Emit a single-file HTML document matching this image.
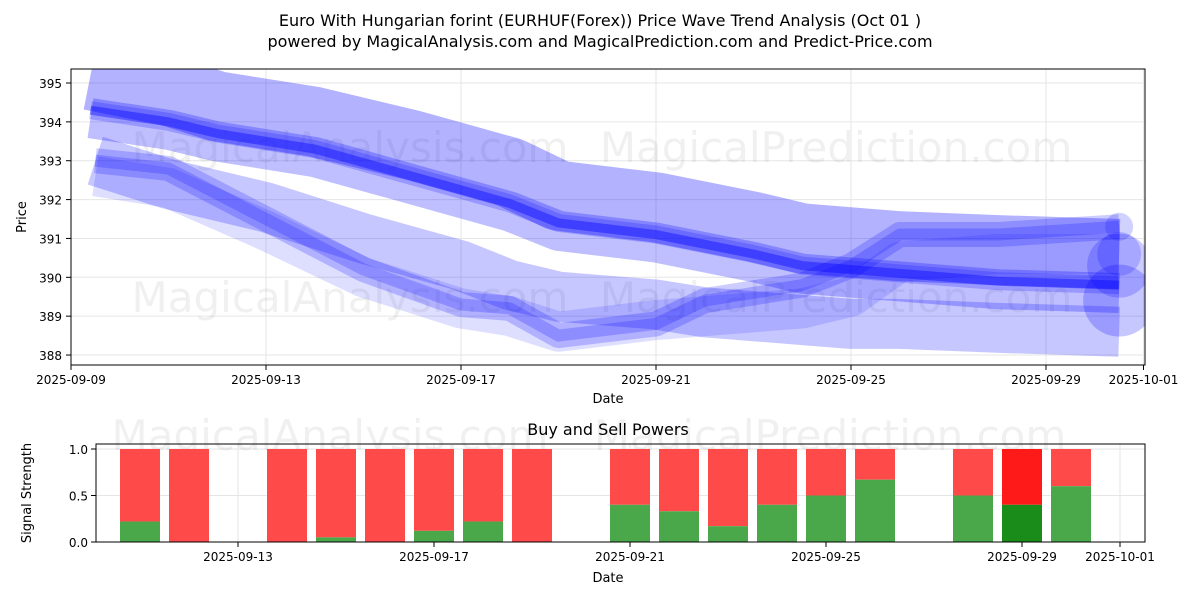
<!DOCTYPE html>
<html><head><meta charset="utf-8"><style>
body{margin:0;background:#fff;font-family:"Liberation Sans","DejaVu Sans",sans-serif}
svg text{font-family:"DejaVu Sans","Liberation Sans",sans-serif}
</style></head><body>
<svg id="c" width="1200" height="600" xmlns="http://www.w3.org/2000/svg">
<text x="600" y="26" text-anchor="middle" font-size="16">Euro With Hungarian forint (EURHUF(Forex)) Price Wave Trend Analysis (Oct 01 )</text>
<text x="600" y="47" text-anchor="middle" font-size="16">powered by MagicalAnalysis.com and MagicalPrediction.com and Predict-Price.com</text>
<defs><clipPath id="clipm"><rect x="71" y="69" width="1074" height="296"/></clipPath></defs>
<g id="main"></g>
<g id="bot"></g>
</svg>
<script>
// Main chart data (day of September, price)
const waveDays = [9.4, 11, 12, 14, 16, 18, 19, 21, 23, 24, 26, 28, 30.5];
const midLine = [394.3, 394.0, 393.7, 393.3, 392.6, 391.9, 391.4, 391.1, 390.6, 390.3, 390.1, 389.9, 389.8];
const upperBand = [395.2, 394.8, 394.4, 394.0, 393.4, 392.7, 392.1, 391.8, 391.3, 391.0, 390.8, 390.7, 390.6];
const lowDays = [9.5, 11, 13, 15, 17, 18, 19, 21, 22, 23, 24, 25, 26, 28, 30.5];
const lowLine = [393.0, 392.8, 391.5, 390.2, 389.3, 389.2, 388.5, 388.8, 389.4, 389.6, 389.8, 390.3, 391.1, 391.1, 391.3];
const lowBand = [392.6, 392.3, 391.2, 390.0, 389.2, 389.0, 388.6, 388.9, 389.0, 389.1, 389.2, 389.5, 390.4, 390.6, 390.6];
const baseLine = [393.0, 392.4, 391.8, 391.0, 390.3, 389.8, 389.5, 389.3, 389.1, 389.0, 388.9, 388.8, 388.8, 388.7, 388.6];
const yTicks = [388, 389, 390, 391, 392, 393, 394, 395];
const xTickDays = [9, 13, 17, 21, 25, 29, 31];
const xTickLabels = ["2025-09-09","2025-09-13","2025-09-17","2025-09-21","2025-09-25","2025-09-29","2025-10-01"];
// Bottom chart data
const barDays = [11,12,14,15,16,17,18,19,21,22,23,24,25,26,28,29,30];
const buyVals = [0.22,0,0,0.05,0,0.12,0.22,0,0.4,0.33,0.17,0.4,0.5,0.67,0.5,0.4,0.6];
const sellVals = [1,1,1,1,1,1,1,1,1,1,1,1,1,1,1,1,1];
const bTickDays = [13,17,21,25,29,31];
const bTickLabels = ["2025-09-13","2025-09-17","2025-09-21","2025-09-25","2025-09-29","2025-10-01"];
const sTicks = [0, 0.5, 1.0];

const NS="http://www.w3.org/2000/svg";
function mk(p,t,a){const e=document.createElementNS(NS,t);for(const k in a)e.setAttribute(k,a[k]);p.appendChild(e);return e;}
const X=d=>71+(d-9)*48.75, Y=v=>83+(395-v)*38.86;
const m=document.getElementById('main');
yTicks.forEach(v=>{const l=mk(m,'line',{x1:71,x2:1145,y1:Y(v),y2:Y(v),stroke:'#e6e6e6'});

mk(m,'line',{x1:66,x2:71,y1:Y(v),y2:Y(v),stroke:'#000'});
const t=mk(m,'text',{x:62,y:Y(v)+5,'text-anchor':'end','font-size':12});t.textContent=v;
});
xTickDays.forEach((d,i)=>{const l=mk(m,'line',{x1:X(d),x2:X(d),y1:69,y2:365,stroke:'#e6e6e6'});

mk(m,'line',{x1:X(d),x2:X(d),y1:365,y2:370,stroke:'#000'});
const t=mk(m,'text',{x:X(d),y:384,'text-anchor':'middle','font-size':12});t.textContent=xTickLabels[i];
});
[[350,162,'MagicalAnalysis.com'],[836,162,'MagicalPrediction.com'],[350,312,'MagicalAnalysis.com'],[836,312,'MagicalPrediction.com']].forEach(w=>{
const t=mk(m,'text',{x:w[0],y:w[1],'text-anchor':'middle','font-size':42,fill:'#000','fill-opacity':0.06});t.textContent=w[2];
});
const g=mk(m,'g',{'clip-path':'url(#clipm)'});
function line(days,vals,w,op,name,dy){const pts=days.map((d,i)=>X(d)+','+(Y(vals[i])+(dy||0))).join(' ');
const p=mk(g,'polyline',{points:pts,fill:'none',stroke:'#0000ff','stroke-opacity':op,'stroke-width':w,'stroke-linejoin':'round','stroke-linecap':'butt'});
}
line(waveDays,upperBand,70,0.3,'upper-wave-band');
line(waveDays,midLine,40,0.25,'mid-wave-band',8);
line(lowDays,baseLine,50,0.22,'base-wave-band');
line(lowDays,lowBand,40,0.13,'low-wave-band-wide');
line(lowDays,lowLine,25,0.2,'low-wave-band');
line(lowDays,lowLine,12,0.2,'low-wave-core');
line(waveDays,midLine,18,0.2,'mid-wave-line-outer');
line(waveDays,midLine,9,0.4,'mid-wave-line');
[[389.4,36,0.22],[390.3,32,0.2],[390.6,22,0.18],[391.3,14,0.18]].forEach(c=>{const e=mk(g,'circle',{cx:X(30.5),cy:Y(c[0]),r:c[1],fill:'#0000ff','fill-opacity':c[2]});
});
mk(m,'rect',{x:71,y:69,width:1074,height:296,fill:'none',stroke:'#000'});
let t=mk(m,'text',{x:608,y:403,'text-anchor':'middle','font-size':13});t.textContent='Date';
t=mk(m,'text',{x:26,y:217,'text-anchor':'middle','font-size':13,transform:'rotate(-90 26 217)'});t.textContent='Price';
const b=document.getElementById('bot');
const BX=d=>238+(d-13)*49, BY=v=>542-v*93;
t=mk(b,'text',{x:608,y:435,'text-anchor':'middle','font-size':16});t.textContent='Buy and Sell Powers';
sTicks.forEach(v=>{const l=mk(b,'line',{x1:96,x2:1145,y1:BY(v),y2:BY(v),stroke:'#e6e6e6'});
mk(b,'line',{x1:91,x2:96,y1:BY(v),y2:BY(v),stroke:'#000'});
const tt=mk(b,'text',{x:88,y:BY(v)+5,'text-anchor':'end','font-size':12});tt.textContent=v.toFixed(1);});
bTickDays.forEach((d,i)=>{const l=mk(b,'line',{x1:BX(d),x2:BX(d),y1:444,y2:542,stroke:'#e6e6e6'});
mk(b,'line',{x1:BX(d),x2:BX(d),y1:542,y2:547,stroke:'#000'});
const tt=mk(b,'text',{x:BX(d),y:561,'text-anchor':'middle','font-size':12});tt.textContent=bTickLabels[i];});
[[330,450,'MagicalAnalysis.com'],[830,450,'MagicalPrediction.com']].forEach(w=>{const tt=mk(b,'text',{x:w[0],y:w[1],'text-anchor':'middle','font-size':42,'fill-opacity':0.06});tt.textContent=w[2];});
barDays.forEach((d,i)=>{const hi=d===29;
const r=mk(b,'rect',{x:BX(d)-20,y:BY(sellVals[i]),width:40,height:BY(buyVals[i])-BY(sellVals[i]),fill:hi?'#ff1a1a':'#ff4a4a'});

const gg=mk(b,'rect',{x:BX(d)-20,y:BY(buyVals[i]),width:40,height:542-BY(buyVals[i]),fill:hi?'#1a8c1a':'#4aa84a'});
});
mk(b,'rect',{x:96,y:444,width:1049,height:98,fill:'none',stroke:'#000'});
t=mk(b,'text',{x:608,y:582,'text-anchor':'middle','font-size':13});t.textContent='Date';
t=mk(b,'text',{x:31,y:493,'text-anchor':'middle','font-size':13,transform:'rotate(-90 31 493)'});t.textContent='Signal Strength';
</script>
</body></html>
